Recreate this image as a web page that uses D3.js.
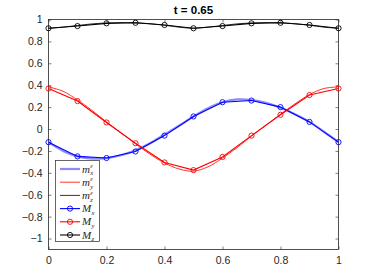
<!DOCTYPE html>
<html>
<head>
<meta charset="utf-8">
<script src="https://cdn.jsdelivr.net/npm/d3@7"></script>
<style>
  body { margin: 0; background: #fff; }
  text { font-family: "Liberation Sans", Arial, sans-serif; }
</style>
</head>
<body>
<script>
// coarse grid (markers)
const xs = [0, 0.1, 0.2, 0.3, 0.4, 0.5, 0.6, 0.7, 0.8, 0.9, 1];
const Mx = [-0.12, -0.25, -0.265, -0.205, -0.06, 0.115, 0.245, 0.26, 0.2, 0.065, -0.12];
const My = [0.37, 0.255, 0.06, -0.13, -0.305, -0.375, -0.255, -0.06, 0.13, 0.31, 0.37];
const Mz = [0.92, 0.94, 0.965, 0.97, 0.95, 0.92, 0.94, 0.965, 0.97, 0.95, 0.92];

// fine grid (smooth curves)
const xf = [0, 0.05, 0.1, 0.15, 0.2, 0.25, 0.3, 0.35, 0.4, 0.45, 0.5, 0.55, 0.6, 0.65, 0.7, 0.75, 0.8, 0.85, 0.9, 0.95, 1];
const mx = [-0.12, -0.2, -0.25, -0.27, -0.265, -0.24, -0.195, -0.13, -0.05, 0.03, 0.115, 0.19, 0.245, 0.27, 0.265, 0.24, 0.195, 0.135, 0.065, -0.025, -0.12];
const my = [0.385, 0.345, 0.265, 0.17, 0.065, -0.035, -0.135, -0.23, -0.31, -0.365, -0.385, -0.345, -0.265, -0.17, -0.065, 0.035, 0.135, 0.23, 0.315, 0.37, 0.385];
const mz = [0.92, 0.93, 0.945, 0.96, 0.968, 0.972, 0.97, 0.962, 0.948, 0.93, 0.92, 0.93, 0.945, 0.96, 0.968, 0.972, 0.97, 0.962, 0.948, 0.93, 0.92];

const xTicks = [0, 0.2, 0.4, 0.6, 0.8, 1];
const yTicks = [-1, -0.8, -0.6, -0.4, -0.2, 0, 0.2, 0.4, 0.6, 0.8, 1];

const dims = { width: 374, height: 280 };
const box = { left: 48.5, right: 338.5, top: 19.5, bottom: 249.5 };
const axCol = "#262626";

const svg = d3.select("body").append("svg")
    .attr("width", dims.width)
    .attr("height", dims.height);

const x = d3.scaleLinear().domain([0, 1]).range([box.left, box.right]);
const y = d3.scaleLinear().domain([-1.1, 1]).range([box.bottom, box.top]);

// axes (ticks inward, box)
const tl = 3;
svg.append("g").attr("transform", `translate(0,${box.bottom})`)
    .call(d3.axisBottom(x).tickValues(xTicks).tickSizeInner(-tl).tickSizeOuter(0).tickPadding(7).tickFormat(d3.format("")))
    .call(g => g.select(".domain").remove());
svg.append("g").attr("transform", `translate(0,${box.top})`)
    .call(d3.axisTop(x).tickValues(xTicks).tickSizeInner(-tl).tickSizeOuter(0).tickFormat(""))
    .call(g => g.select(".domain").remove());
svg.append("g").attr("transform", `translate(${box.left},0)`)
    .call(d3.axisLeft(y).tickValues(yTicks).tickSizeInner(-tl).tickSizeOuter(0).tickPadding(6).tickFormat(d3.format("")))
    .call(g => g.select(".domain").remove());
svg.append("g").attr("transform", `translate(${box.right},0)`)
    .call(d3.axisRight(y).tickValues(yTicks).tickSizeInner(-tl).tickSizeOuter(0).tickFormat(""))
    .call(g => g.select(".domain").remove());

svg.selectAll(".tick line").attr("stroke", axCol).attr("stroke-width", 0.6);
svg.selectAll(".tick text").attr("fill", axCol).style("font-size", "10.5px").style("font-family", "Liberation Sans, Arial, sans-serif");

svg.append("rect")
    .attr("x", box.left).attr("y", box.top)
    .attr("width", box.right - box.left).attr("height", box.bottom - box.top)
    .attr("fill", "none").attr("stroke", axCol).attr("stroke-width", 0.8);

// title
svg.append("text")
    .attr("x", (box.left + box.right) / 2).attr("y", 14)
    .attr("text-anchor", "middle")
    .style("font-size", "11.5px").style("font-weight", "bold")
    .text("t = 0.65");

const fine = d3.line().x(d => x(d[0])).y(d => y(d[1])).curve(d3.curveCatmullRom);
const coarse = d3.line().x(d => x(d[0])).y(d => y(d[1]));

const smooth = [
  { vals: mx, col: "rgba(90,90,255,0.7)", w: 2.2 },
  { vals: my, col: "#ff0000", w: 0.8 },
  { vals: mz, col: "#000000", w: 0.8 }
];
smooth.forEach(s => {
  svg.append("path")
    .datum(xf.map((v, i) => [v, s.vals[i]]))
    .attr("d", fine).attr("fill", "none")
    .attr("stroke", s.col).attr("stroke-width", s.w);
});

const marked = [
  { vals: Mx, col: "#0000ff" },
  { vals: My, col: "#ff0000" },
  { vals: Mz, col: "#000000" }
];
marked.forEach(s => {
  const pts = xs.map((v, i) => [v, s.vals[i]]);
  svg.append("path").datum(pts)
    .attr("d", coarse).attr("fill", "none")
    .attr("stroke", s.col).attr("stroke-width", 1.1);
  svg.selectAll(null).data(pts).enter().append("circle")
    .attr("cx", d => x(d[0])).attr("cy", d => y(d[1])).attr("r", 2.6)
    .attr("fill", "none").attr("stroke", s.col).attr("stroke-width", 0.9);
});

// legend
const lg = svg.append("g");
lg.append("rect").attr("x", 55.5).attr("y", 160.5).attr("width", 44).attr("height", 81)
  .attr("fill", "#fff").attr("stroke", axCol).attr("stroke-width", 0.7);

const legItems = [
  { name: "m", sub: "x", sup: "\u03B5", col: "rgba(90,90,255,0.7)", w: 2.2, mark: false },
  { name: "m", sub: "y", sup: "\u03B5", col: "#ff0000", w: 0.8, mark: false },
  { name: "m", sub: "z", sup: "\u03B5", col: "#000000", w: 0.8, mark: false },
  { name: "M", sub: "x", sup: "", col: "#0000ff", w: 1.1, mark: true },
  { name: "M", sub: "y", sup: "", col: "#ff0000", w: 1.1, mark: true },
  { name: "M", sub: "z", sup: "", col: "#000000", w: 1.1, mark: true }
];
const rowY = d3.scaleLinear().domain([0, 5]).range([169, 235]);
const serif = "Liberation Serif, Times New Roman, serif";
legItems.forEach((it, i) => {
  const yy = rowY(i);
  lg.append("line").attr("x1", 60).attr("x2", 80).attr("y1", yy).attr("y2", yy)
    .attr("stroke", it.col).attr("stroke-width", it.w);
  if (it.mark) {
    lg.append("circle").attr("cx", 70).attr("cy", yy).attr("r", 2.6)
      .attr("fill", "none").attr("stroke", it.col).attr("stroke-width", 0.9);
  }
  const base = lg.append("text").attr("x", 82).attr("y", yy + 3.5)
    .style("font-family", serif).style("font-style", "italic")
    .style("font-size", "11px").attr("fill", axCol).text(it.name);
  const w = base.node().getComputedTextLength();
  if (it.sup) {
    lg.append("text").attr("x", 82 + w + 0.3).attr("y", yy - 0.8)
      .style("font-family", serif).style("font-style", "italic")
      .style("font-size", "6.5px").attr("fill", axCol).text(it.sup);
  }
  lg.append("text").attr("x", 82 + w + 0.3).attr("y", yy + 6.3)
    .style("font-family", serif).style("font-style", "italic")
    .style("font-size", "6.5px").attr("fill", axCol).text(it.sub);
});
</script>
</body>
</html>
